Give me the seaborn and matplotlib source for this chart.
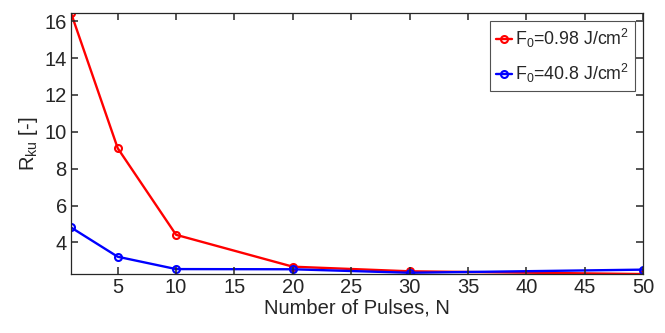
import matplotlib
matplotlib.use("Agg")
import matplotlib.pyplot as plt
import seaborn as sns
import pandas as pd

# data
pulses = [1, 5, 10, 20, 30, 50]
rku_low = [16.45, 9.11, 4.41, 2.68, 2.43, 2.28]    # F0 = 0.98 J/cm2
rku_high = [4.81, 3.22, 2.55, 2.54, 2.35, 2.52]    # F0 = 40.8 J/cm2
labels = ['F$_\\mathregular{0}$=0.98 J/cm$^\\mathregular{2}$',
          'F$_\\mathregular{0}$=40.8 J/cm$^\\mathregular{2}$']
colors = ['#ff0000', '#0000ff']
xticks = [5, 10, 15, 20, 25, 30, 35, 40, 45, 50]
yticks = [4, 6, 8, 10, 12, 14, 16]

sns.set_style("ticks")
plt.rcParams['font.family'] = ['Liberation Sans', 'DejaVu Sans']
plt.rcParams['mathtext.fontset'] = 'custom'
plt.rcParams['mathtext.rm'] = 'Liberation Sans'
plt.rcParams['axes.axisbelow'] = False

df = pd.DataFrame({'N': pulses, 'low': rku_low, 'high': rku_high})

fig = plt.figure(figsize=(6.65, 3.33), dpi=100)
ax = fig.add_axes([0.1068, 0.177, 0.967 - 0.1068, 0.961 - 0.177])

for col, lab, c in zip(['low', 'high'], labels, colors):
    sns.lineplot(data=df, x='N', y=col, ax=ax, color=c, label=lab,
                 marker='o', markersize=5, markerfacecolor='none',
                 markeredgecolor=c, markeredgewidth=1.5, linewidth=1.7)

ax.set_xlim(1, 50)
ax.set_ylim(min(rku_low + rku_high), max(rku_low + rku_high))
ax.set_xticks(xticks)
ax.set_yticks(yticks)
ax.xaxis.set_ticks_position('both')
ax.yaxis.set_ticks_position('both')
ax.tick_params(axis='both', which='major', direction='in', length=5, width=1.1,
               labelsize=14.5, color='#262626', labelcolor='#262626', pad=3)
for s in ax.spines.values():
    s.set_color('#262626')
    s.set_linewidth(0.9)
    s.set_visible(True)

ax.set_xlabel('Number of Pulses, N', fontsize=14.5, color='#262626', labelpad=1)
ax.set_ylabel('R$_\\mathregular{ku}$ [-]', fontsize=14.5, color='#262626', labelpad=3)

leg = ax.legend(loc='upper right', fontsize=12.8, frameon=True, fancybox=False,
                edgecolor='#262626', handlelength=0.9, handletextpad=0.15,
                borderpad=0.35, labelspacing=0.65, borderaxespad=0.45)
leg.get_frame().set_linewidth(0.8)

fig.savefig('out.png', dpi=100)
plt.close()
